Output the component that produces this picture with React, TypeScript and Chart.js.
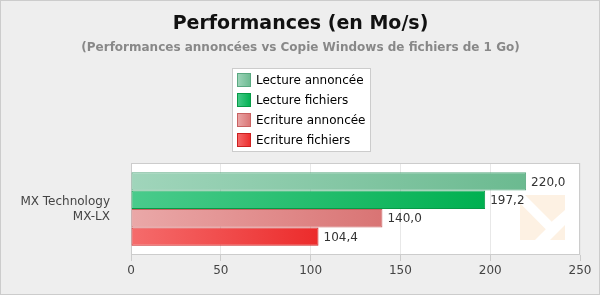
import React, { useEffect, useRef } from "react";
import { Chart, registerables } from "chart.js";

Chart.register(...registerables);

const CATEGORIES = [["MX Technology", "MX-LX"]];
const SERIES_NAMES = ["Lecture annoncée", "Lecture fichiers", "Ecriture annoncée", "Ecriture fichiers"];
const LECTURE_ANNONCEE = [220.0];
const LECTURE_FICHIERS = [197.2];
const ECRITURE_ANNONCEE = [140.0];
const ECRITURE_FICHIERS = [104.4];
const X_TICKS = [0, 50, 100, 150, 200, 250];
const TITLE = "Performances (en Mo/s)";
const SUBTITLE = "(Performances annoncées vs Copie Windows de fichiers de 1 Go)";

const FONT = "'DejaVu Sans', sans-serif";
const COLORS = [
  { light: "#a0d5bb", dark: "#6bba90", border: "#5aa981" },
  { light: "#4acb8c", dark: "#00b050", border: "#079a47" },
  { light: "#eaa8a8", dark: "#d97474", border: "#c96262" },
  { light: "#f56c6c", dark: "#ec2b2b", border: "#cc2020" },
];

function barGradient(i: number) {
  return (ctx: any) => {
    const chart = ctx.chart;
    const area = chart.chartArea;
    const c = COLORS[i];
    if (!area || ctx.type !== "data") return c.dark;
    const xs = chart.scales.x;
    const x0 = xs.getPixelForValue(0);
    const x1 = xs.getPixelForValue(ctx.raw);
    const g = chart.ctx.createLinearGradient(x0, 0, Math.max(x1, x0 + 1), 0);
    g.addColorStop(0, c.light);
    g.addColorStop(1, c.dark);
    return g;
  };
}

const decorPlugin = {
  id: "decor",
  beforeDraw(chart: any) {
    const { ctx, width, height, chartArea } = chart;
    ctx.save();
    ctx.fillStyle = "#eeeeee";
    ctx.fillRect(0, 0, width, height);
    ctx.strokeStyle = "#cccccc";
    ctx.lineWidth = 1;
    ctx.strokeRect(0.5, 0.5, width - 1, height - 1);
    ctx.fillStyle = "#ffffff";
    ctx.fillRect(chartArea.left, chartArea.top, chartArea.right - chartArea.left, chartArea.bottom - chartArea.top);
    ctx.restore();
  },
  beforeDatasetsDraw(chart: any) {
    const { ctx, chartArea } = chart;
    ctx.save();
    // frame
    ctx.strokeStyle = "#cccccc";
    ctx.lineWidth = 1;
    ctx.strokeRect(
      Math.round(chartArea.left) + 0.5,
      Math.round(chartArea.top) + 0.5,
      Math.round(chartArea.right - chartArea.left) - 1,
      Math.round(chartArea.bottom - chartArea.top) - 1
    );
    // watermark
    const ox = chartArea.right - 60;
    const oy = chartArea.bottom - 60;
    const polys = [
      [[5, 0], [45, 0], [45, 15], [31.7, 26.7]],
      [[0, 8.3], [0, 45], [15, 45], [25.8, 34.2]],
      [[30, 45], [45, 30], [45, 45]],
    ];
    ctx.fillStyle = "rgba(253,240,224,0.9)";
    for (const p of polys) {
      ctx.beginPath();
      p.forEach(([x, y], k) => (k ? ctx.lineTo(ox + x, oy + y) : ctx.moveTo(ox + x, oy + y)));
      ctx.closePath();
      ctx.fill();
    }
    ctx.restore();
  },
  afterDatasetsDraw(chart: any) {
    const { ctx } = chart;
    ctx.save();
    ctx.font = `12px ${FONT}`;
    ctx.fillStyle = "#333333";
    ctx.textAlign = "left";
    ctx.textBaseline = "middle";
    chart.data.datasets.forEach((ds: any, i: number) => {
      const meta = chart.getDatasetMeta(i);
      meta.data.forEach((el: any, j: number) => {
        const v = ds.data[j] as number;
        ctx.fillText(v.toFixed(1).replace(".", ","), el.x + 5, el.y + 1);
      });
    });
    ctx.restore();
  },
  afterDraw(chart: any) {
    const { ctx, width } = chart;
    const cx = width / 2 + 0.5;
    ctx.save();
    ctx.textAlign = "center";
    ctx.textBaseline = "middle";
    ctx.fillStyle = "#111111";
    ctx.font = `bold 19px ${FONT}`;
    ctx.fillText(TITLE, cx, 24);
    ctx.fillStyle = "#888888";
    ctx.font = `bold 12px ${FONT}`;
    ctx.fillText(SUBTITLE, cx, 48);

    // legend
    ctx.font = `12px ${FONT}`;
    const maxW = Math.max(...SERIES_NAMES.map((n) => ctx.measureText(n).width));
    const boxW = Math.round(5 + 14 + 5 + maxW + 4);
    const left = Math.round(cx - boxW / 2);
    const top = 68;
    const boxH = 83;
    ctx.fillStyle = "#ffffff";
    ctx.fillRect(left, top, boxW, boxH);
    ctx.strokeStyle = "#cccccc";
    ctx.lineWidth = 1;
    ctx.strokeRect(left + 0.5, top + 0.5, boxW, boxH);
    SERIES_NAMES.forEach((name, i) => {
      const sx = left + 5;
      const sy = top + 5 + i * 20;
      const c = COLORS[i];
      const g = ctx.createLinearGradient(sx, 0, sx + 14, 0);
      g.addColorStop(0, c.light);
      g.addColorStop(1, c.dark);
      ctx.fillStyle = g;
      ctx.fillRect(sx, sy, 14, 14);
      ctx.strokeStyle = c.border;
      ctx.strokeRect(sx + 0.5, sy + 0.5, 13, 13);
      ctx.fillStyle = "#000000";
      ctx.textAlign = "left";
      ctx.fillText(name, sx + 19, sy + 7.5);
    });
    ctx.restore();
  },
};

export default function App() {
  const ref = useRef<HTMLCanvasElement | null>(null);
  useEffect(() => {
    if (!ref.current) return;
    const seriesValues = [LECTURE_ANNONCEE, LECTURE_FICHIERS, ECRITURE_ANNONCEE, ECRITURE_FICHIERS];
    const chart = new Chart(ref.current, {
      type: "bar",
      data: {
        labels: CATEGORIES as any,
        datasets: seriesValues.map((vals, i) => ({
          label: SERIES_NAMES[i],
          data: vals,
          backgroundColor: barGradient(i),
          borderColor: COLORS[i].border,
          borderWidth: 1,
          borderSkipped: false,
          categoryPercentage: 0.8,
          barPercentage: 1.0,
        })),
      },
      options: {
        indexAxis: "y",
        responsive: false,
        animation: false,
        layout: { padding: { top: 163, left: 0, right: 20, bottom: 0 } },
        plugins: {
          legend: { display: false },
          title: { display: false },
          tooltip: { enabled: false },
        },
        scales: {
          x: {
            min: 0,
            max: 250,
            afterBuildTicks: (s: any) => {
              s.ticks = X_TICKS.map((v) => ({ value: v }));
            },
            afterFit: (s: any) => {
              s.height = 40;
            },
            grid: {
              color: "#e8e8e8",
              tickColor: "#cccccc",
              tickLength: 6,
              drawTicks: true,
            },
            border: { display: false },
            ticks: {
              font: { family: FONT, size: 12 },
              color: "#444444",
              padding: 3,
              maxRotation: 0,
            },
          },
          y: {
            afterFit: (s: any) => {
              s.width = 131;
            },
            grid: { display: false, drawTicks: false },
            border: { display: false },
            ticks: {
              font: { family: FONT, size: 12, lineHeight: 1.25 },
              color: "#444444",
              padding: 21,
            },
          },
        },
      },
      plugins: [decorPlugin],
    });
    return () => chart.destroy();
  }, []);
  return (
    <div style={{ position: "fixed", left: 0, top: 0, width: 600, height: 295 }}>
      <canvas ref={ref} width={600} height={295} style={{ display: "block", width: 600, height: 295 }} />
    </div>
  );
}
